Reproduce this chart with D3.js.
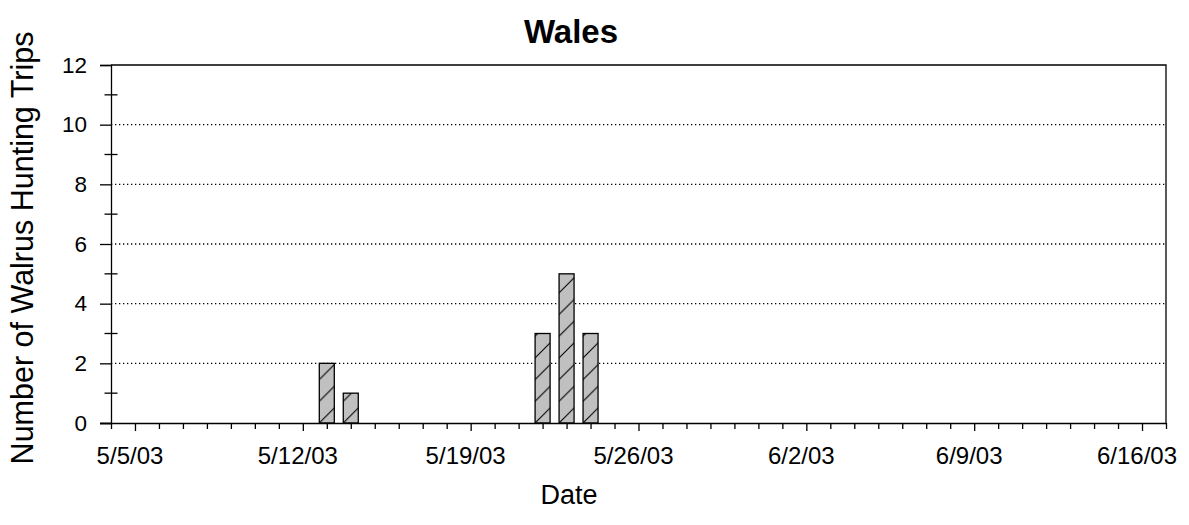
<!DOCTYPE html>
<html>
<head>
<meta charset="utf-8">
<script src="https://cdn.jsdelivr.net/npm/d3@7"></script>
<style>
  html, body { margin: 0; padding: 0; background: #fff; }
  svg { display: block; font-family: "Liberation Sans", Arial, Helvetica, sans-serif; }
</style>
</head>
<body>
<svg id="chart" width="1189" height="525"></svg>
<script>
// ---- data ----
const chartTitle = "Wales";
const xAxisTitle = "Date";
const yAxisTitle = "Number of Walrus Hunting Trips";
const barDates = ["2003-05-13", "2003-05-14", "2003-05-22", "2003-05-23", "2003-05-24"];
const tripCounts = [2, 1, 3, 5, 3];
const yMajorTicks = [0, 2, 4, 6, 8, 10, 12];
const yMinorTicks = [1, 3, 5, 7, 9, 11];
const xLabelDates = ["2003-05-05", "2003-05-12", "2003-05-19", "2003-05-26", "2003-06-02", "2003-06-09", "2003-06-16"];
const xTickLabels = ["5/5/03", "5/12/03", "5/19/03", "5/26/03", "6/2/03", "6/9/03", "6/16/03"];
const xDomain = ["2003-05-04", "2003-06-17"];

// ---- layout ----
const svg = d3.select("#chart");
const pLeft = 111, pRight = 1166, pTop = 65, pBottom = 423;
const parse = d3.utcParse("%Y-%m-%d");

const x = d3.scaleUtc().domain(xDomain.map(parse)).range([pLeft, pRight]);
const y = d3.scaleLinear().domain([0, 12]).range([pBottom, pTop]);

const barW = 15;
const hatch = 21.7;

// patterns (one per bar so the hatch is aligned to each bar)
const defs = svg.append("defs");
const bars = barDates.map((d, i) => ({ date: parse(d), v: tripCounts[i], i }));
bars.forEach(b => {
  const p = defs.append("pattern")
    .attr("id", "hatch" + b.i)
    .attr("patternUnits", "userSpaceOnUse")
    .attr("x", x(b.date) - barW / 2)
    .attr("y", pBottom)
    .attr("width", hatch)
    .attr("height", hatch);
  p.append("rect").attr("width", hatch).attr("height", hatch).attr("fill", "#c0c0c0");
  p.append("path")
    .attr("d", `M0,${hatch} L${hatch},0 M-4,4 L4,-4 M${hatch - 4},${hatch + 4} L${hatch + 4},${hatch - 4}`)
    .attr("stroke", "#000").attr("stroke-width", 1.1).attr("fill", "none");
});

// gridlines
svg.append("g").selectAll("line")
  .data(yMajorTicks.filter(v => v > 0 && v < 12))
  .join("line")
  .attr("x1", pLeft).attr("x2", pRight)
  .attr("y1", d => y(d)).attr("y2", d => y(d))
  .attr("stroke", "#000").attr("stroke-width", 1.3)
  .attr("stroke-dasharray", "1.3,2.7");

// bars
svg.append("g").selectAll("rect")
  .data(bars)
  .join("rect")
  .attr("x", d => x(d.date) - barW / 2)
  .attr("y", d => y(d.v))
  .attr("width", barW)
  .attr("height", d => y(0) - y(d.v))
  .attr("fill", d => `url(#hatch${d.i})`)
  .attr("stroke", "#000")
  .attr("stroke-width", 1.3);

// frame (top and right)
svg.append("path")
  .attr("d", `M${pLeft},${pTop} L${pRight},${pTop} L${pRight},${pBottom}`)
  .attr("fill", "none").attr("stroke", "#000").attr("stroke-width", 1.3);

// y axis
const yAxis = svg.append("g").attr("transform", `translate(${pLeft},0)`)
  .call(d3.axisLeft(y).tickValues(yMajorTicks).tickSize(11).tickPadding(13).tickFormat(d3.format("d")));
yAxis.select(".domain").attr("stroke-width", 1.3);
yAxis.selectAll(".tick line").attr("stroke-width", 1.3);
yAxis.selectAll("text").attr("font-size", 22.5).attr("fill", "#000")
  .attr("font-family", "'Liberation Sans', Arial, sans-serif");
svg.append("g").selectAll("line")
  .data(yMinorTicks)
  .join("line")
  .attr("x1", pLeft - 6.5).attr("x2", pLeft + 6.5)
  .attr("y1", d => y(d)).attr("y2", d => y(d))
  .attr("stroke", "#000").attr("stroke-width", 1.3);

// x axis
const dayTicks = d3.utcDay.range(parse(xDomain[0]), d3.utcDay.offset(parse(xDomain[1]), 1));
const majorSet = new Set(xLabelDates);
const fmt = d3.utcFormat("%Y-%m-%d");
const xAxis = svg.append("g").attr("transform", `translate(0,${pBottom})`)
  .call(d3.axisBottom(x).tickValues(dayTicks).tickSize(6).tickFormat(""));
xAxis.select(".domain").attr("stroke-width", 1.3).attr("d", `M${pLeft - 11},0.5H${pRight}`);
xAxis.selectAll(".tick line")
  .attr("stroke-width", 1.3)
  .attr("y2", d => majorSet.has(fmt(d)) ? 8 : 6);

svg.append("g").selectAll("text")
  .data(xLabelDates.map((d, i) => ({ date: parse(d), label: xTickLabels[i] })))
  .join("text")
  .attr("x", d => x(d.date) - 5)
  .attr("y", 464)
  .attr("text-anchor", "middle")
  .attr("font-size", 24)
  .text(d => d.label);

// titles
svg.append("text")
  .attr("x", 571).attr("y", 43)
  .attr("text-anchor", "middle")
  .attr("font-size", 33).attr("font-weight", "bold")
  .text(chartTitle);

svg.append("text")
  .attr("x", 569).attr("y", 504)
  .attr("text-anchor", "middle")
  .attr("font-size", 27)
  .text(xAxisTitle);

svg.append("text")
  .attr("transform", "translate(33,248) rotate(-90)")
  .attr("text-anchor", "middle")
  .attr("font-size", 30.5)
  .text(yAxisTitle);
</script>
</body>
</html>
